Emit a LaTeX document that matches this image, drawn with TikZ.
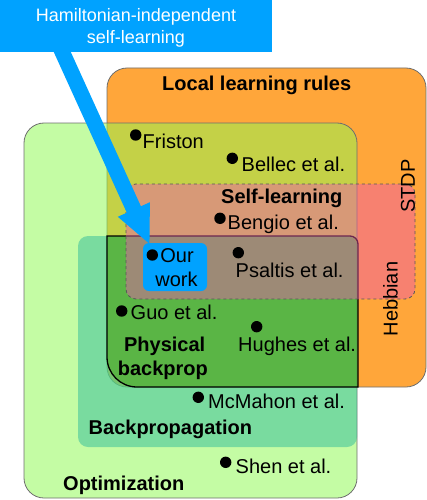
\documentclass[tikz,border=0pt]{standalone}
\usepackage{fontspec}
\setmainfont{Liberation Sans}
\usetikzlibrary{arrows.meta}
\definecolor{llorange}{RGB}{255,166,58}
\definecolor{optgreen}{RGB}{144,249,83}
\definecolor{bpteal}{RGB}{48,188,156}
\definecolor{physgreen}{RGB}{61,165,26}
\definecolor{selfred}{RGB}{239,86,178}
\definecolor{hiblue}{RGB}{0,162,255}
\definecolor{boxgray}{RGB}{110,110,110}

\begin{document}
\begin{tikzpicture}[x=1pt,y=-1pt,
  ref/.style={font=\fontsize{20}{24}\selectfont, anchor=base west, inner sep=0pt},
  area/.style={font=\fontsize{20}{24}\selectfont\bfseries, anchor=base west, inner sep=0pt},
  vert/.style={font=\fontsize{20}{24}\selectfont, rotate=90, inner sep=0pt},
  ham/.style={font=\fontsize{18}{22}\selectfont, text=white, anchor=base, inner sep=0pt}]
\useasboundingbox (0,0) rectangle (427,500);

% Regions
\draw[boxgray, line width=0.8pt, fill=llorange, rounded corners=20pt] (107,68) rectangle (426,387);
\draw[boxgray, line width=0.8pt, fill=optgreen, fill opacity=0.53, rounded corners=20pt] (24,123) rectangle (357,498);
\fill[bpteal, fill opacity=0.5, rounded corners=10pt] (78,236) rectangle (357,447);
\draw[black, line width=1.3pt, fill=physgreen, fill opacity=0.5] (107,236) -- (350,236)
  .. controls (354.4,236) and (358,239.6) .. (358,244) -- (358,387) -- (137,387)
  .. controls (120.4,387) and (107,373.6) .. (107,357) -- cycle;
\draw[boxgray!80!black, line width=0.8pt, dashed, fill=selfred, fill opacity=0.45, rounded corners=10pt] (126,184) rectangle (415,299);

% Arrow to our work
\coordinate (arrowtail) at (50,25);
\coordinate (arrowtip) at (150,245);
\draw[hiblue, line width=15.5pt, -{Triangle[length=39pt,width=32pt]}] (arrowtail) -- (arrowtip);
\fill[hiblue] (0,0) rectangle (272,52);
\node[ham] (hamtop) at (136,22) {Hamiltonian-independent};
\node[ham] (hambottom) at (136,44) {self-learning};
\fill[hiblue, rounded corners=6pt] (143,243) rectangle (207,291);

% Region labels
\node[area] (locallabel) at (162,91) {Local learning rules};
\node[area] (selflabel) at (221,203) {Self-learning};
\node[area, anchor=base] (physlabel) at (164.7,351.7) {Physical};
\node[area, anchor=base] (physlabelb) at (162.8,375.7) {backprop};
\node[area] (bplabel) at (88.5,434.5) {Backpropagation};
\node[area] (optlabel) at (63,490) {Optimization};
\node[vert] (stdp) at (408,186) {STDP};
\node[vert] (hebbian) at (390.5,299) {Hebbian};

% Works
\fill (135.7,135) circle (5.7pt);
\node[ref] (friston) at (142.5,148) {Friston};
\fill (232.3,158.3) circle (5.7pt);
\node[ref] (bellec) at (241.5,171) {Bellec et al.};
\fill (220,218.3) circle (5.7pt);
\node[ref] (bengio) at (227.5,229) {Bengio et al.};
\fill (152.3,255) circle (5.7pt);
\node[ref, anchor=base] (ourwork) at (177,262) {Our};
\node[ref, anchor=base] (ourworkb) at (176.5,286) {work};
\fill (238.3,252.7) circle (5.7pt);
\node[ref] (psaltis) at (235.5,277) {Psaltis et al.};
\fill (121.7,311) circle (5.7pt);
\node[ref] (guo) at (130.5,319) {Guo et al.};
\fill (256.7,326.7) circle (5.7pt);
\node[ref] (hughes) at (238,351) {Hughes et al.};
\fill (198.3,397.3) circle (5.7pt);
\node[ref] (mcmahon) at (208,408.5) {McMahon et al.};
\fill (225.7,462.3) circle (5.7pt);
\node[ref] (shen) at (235.5,473.5) {Shen et al.};

\end{tikzpicture}
\end{document}
